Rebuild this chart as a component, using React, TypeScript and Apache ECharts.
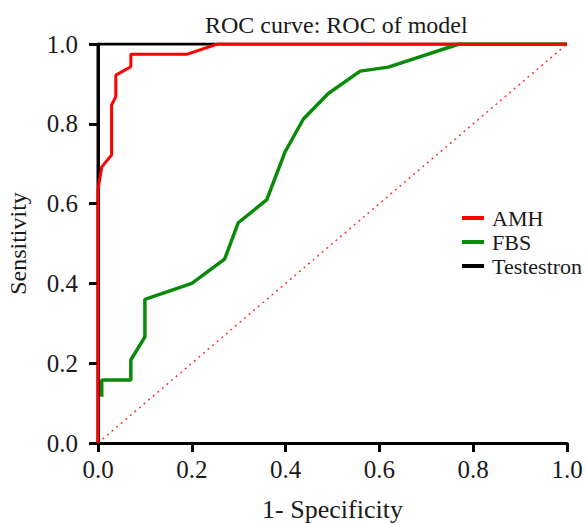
import React, { useEffect, useRef } from "react";
import * as echarts from "echarts";

const titleText = "ROC curve: ROC of model";
const xName = "1- Specificity";
const yName = "Sensitivity";
const seriesNames = ["AMH", "FBS", "Testestron"];

const amhX = [0, 0, 0.008, 0.029, 0.029, 0.038, 0.038, 0.07, 0.07, 0.189, 0.255, 1];
const amhY = [0, 0.634, 0.692, 0.722, 0.847, 0.868, 0.922, 0.943, 0.974, 0.974, 1, 1];

const fbsX = [0.008, 0.008, 0.07, 0.07, 0.1, 0.1, 0.2, 0.27, 0.299, 0.36, 0.399, 0.438, 0.491, 0.559, 0.619, 0.77, 1];
const fbsY = [0.116, 0.158, 0.158, 0.208, 0.266, 0.36, 0.4, 0.461, 0.552, 0.61, 0.73, 0.812, 0.876, 0.932, 0.942, 1, 1];

const tesX = [0, 0, 1];
const tesY = [0, 1, 1];

const refX = [0, 1];
const refY = [0, 1];

const zip = (xs: number[], ys: number[]) => xs.map((x, i) => [x, ys[i]]);

const FONT = "Liberation Serif";
const TXT = "#1a1a1a";

export default function App() {
  const ref = useRef<HTMLDivElement>(null);
  useEffect(() => {
    if (!ref.current) return;
    const chart = echarts.init(ref.current, undefined, { renderer: "svg" });
    const axisCommon = {
      type: "value" as const,
      min: 0,
      max: 1,
      interval: 0.2,
      splitLine: { show: false },
      axisLine: { show: true, lineStyle: { color: "#000", width: 3 } },
      axisTick: { show: true, length: 9, lineStyle: { color: "#000", width: 3 } },
      axisLabel: {
        color: TXT,
        fontFamily: FONT,
        fontSize: 25,
        formatter: (v: number) => v.toFixed(1),
      },
      nameLocation: "middle" as const,
    };
    chart.setOption({
      animation: false,
      backgroundColor: "#fff",
      textStyle: { fontFamily: FONT },
      title: {
        text: titleText,
        left: 200,
        top: 8,
        textStyle: { color: TXT, fontFamily: FONT, fontSize: 24, fontWeight: "normal" },
      },
      grid: {
        left: 98,
        right: 18,
        top: 44,
        bottom: 80,
        containLabel: false,
        outerBoundsMode: "none",
      },
      legend: {
        data: seriesNames,
        orient: "vertical",
        left: 462,
        top: 207,
        padding: 0,
        itemGap: 2,
        icon: "rect",
        itemWidth: 22,
        itemHeight: 4,
        textStyle: { color: TXT, fontFamily: FONT, fontSize: 22, padding: [0, 0, 0, 3] },
      },
      xAxis: {
        ...axisCommon,
        name: xName,
        nameGap: 53,
        nameTextStyle: { color: TXT, fontFamily: FONT, fontSize: 26 },
        axisLabel: { ...axisCommon.axisLabel, margin: 14 },
      },
      yAxis: {
        ...axisCommon,
        name: yName,
        nameGap: 68,
        nameTextStyle: { color: TXT, fontFamily: FONT, fontSize: 24 },
        axisLabel: { ...axisCommon.axisLabel, margin: 20 },
      },
      series: [
        {
          name: "Testestron",
          type: "line",
          data: zip(tesX, tesY),
          showSymbol: false,
          lineStyle: { color: "#000", width: 3 },
          itemStyle: { color: "#000" },
          z: 2,
        },
        {
          name: "ref",
          type: "line",
          data: zip(refX, refY),
          showSymbol: false,
          lineStyle: { color: "#ff3333", width: 1.5, type: [2, 4] },
          itemStyle: { color: "#ff3333" },
          z: 3,
        },
        {
          name: "FBS",
          type: "line",
          data: zip(fbsX, fbsY),
          showSymbol: false,
          lineStyle: { color: "#0a8a0a", width: 3.5 },
          itemStyle: { color: "#0a8a0a" },
          z: 4,
        },
        {
          name: "AMH",
          type: "line",
          data: zip(amhX, amhY),
          showSymbol: false,
          lineStyle: { color: "#ff0000", width: 3 },
          itemStyle: { color: "#ff0000" },
          z: 5,
        },
      ],
    });
    return () => chart.dispose();
  }, []);
  return (
    <div
      ref={ref}
      style={{ position: "absolute", left: 0, top: 0, width: 585, height: 523 }}
    />
  );
}
